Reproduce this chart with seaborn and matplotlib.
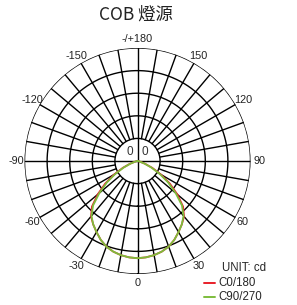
import numpy as np
import pandas as pd
import matplotlib
matplotlib.use("Agg")
import matplotlib.pyplot as plt
import seaborn as sns
from matplotlib.lines import Line2D

# luminous intensity (ring unit = 1 division)
angles = [-90, -85, -80, -75, -70, -65, -60, -55, -50, -45, -40, -35, -30, -25, -20, -15, -10, -5,
          0, 5, 10, 15, 20, 25, 30, 35, 40, 45, 50, 55, 60, 65, 70, 75, 80, 85, 90]
c0_180 = [0, 0, 0.02, 0.12, 0.35, 0.72, 1.2, 1.75, 2.3, 2.85, 3.2, 3.42, 3.63, 3.85, 4.03, 4.15, 4.23, 4.28,
          4.30, 4.28, 4.23, 4.15, 4.03, 3.85, 3.63, 3.42, 3.2, 2.85, 2.3, 1.75, 1.2, 0.72, 0.35, 0.12, 0.02, 0, 0]
c90_270 = [0, 0, 0.02, 0.1, 0.32, 0.66, 1.12, 1.65, 2.2, 2.78, 3.17, 3.42, 3.63, 3.85, 4.03, 4.15, 4.23, 4.28,
           4.30, 4.28, 4.23, 4.15, 4.03, 3.85, 3.63, 3.42, 3.17, 2.78, 2.2, 1.65, 1.12, 0.66, 0.32, 0.1, 0.02, 0, 0]
series_names = ["C0/180", "C90/270"]
series_colors = ["#e8202a", "#7dbd3c"]
label_angles = [0, 30, 60, 90, 120, 150, 180, -150, -120, -90, -60, -30]
label_texts = ["0", "30", "60", "90", "120", "150", "-/+180", "-150", "-120", "-90", "-60", "-30"]

df = pd.concat([
    pd.DataFrame({"theta": np.deg2rad(angles), "cd": c0_180, "curve": series_names[0]}),
    pd.DataFrame({"theta": np.deg2rad(angles), "cd": c90_270, "curve": series_names[1]}),
])

sns.set_style("white")
plt.rcParams["font.family"] = ["Liberation Sans", "DejaVu Sans"]

fig = plt.figure(figsize=(2.97, 3.05), dpi=100)
ax = fig.add_axes([0.0825, 0.1016, 0.761, 0.741], projection="polar")
ax.set_theta_zero_location("S")
ax.set_theta_direction(1)
ax.set_rlim(0, 5)

# grid: rings and spokes
t = np.linspace(0, 2 * np.pi, 400)
for r in range(1, 6):
    ax.plot(t, np.full_like(t, r), color="black", lw=1.0, zorder=1)
for a in range(0, 360, 10):
    r0 = 0 if a % 90 == 0 else 1
    ax.plot([np.deg2rad(a)] * 2, [r0, 5], color="black", lw=1.0, zorder=1)

sns.lineplot(data=df, x="theta", y="cd", hue="curve", palette=series_colors,
             sort=False, lw=1.3, ax=ax, legend=False, zorder=3)

for a, s in zip(label_angles, label_texts):
    ax.text(np.deg2rad(a), 5.38, s, ha="center", va="center", fontsize=7.8, color="#222222")
ax.text(np.deg2rad(-140), 0.5, "0", ha="center", va="center", fontsize=8.5, color="#333333")
ax.text(np.deg2rad(140), 0.5, "0", ha="center", va="center", fontsize=8.5, color="#333333")

ax.set_xticks([])
ax.set_yticks([])
ax.set_xlabel("")
ax.set_ylabel("")
ax.grid(False)
ax.spines["polar"].set_visible(False)

fig.text(0.457, 0.951, "COB 燈源", ha="center", va="center", fontsize=12.5, color="#222222",
         family=["Noto Sans CJK TC", "DejaVu Sans"])

# legend
fig.text(222 / 297, 1 - 268 / 305, "UNIT: cd", ha="left", va="center", fontsize=8.3)
for i, (name, col) in enumerate(zip(series_names, series_colors)):
    y = 1 - (283 + 14 * i) / 305
    fig.add_artist(Line2D([204 / 297, 215 / 297], [y, y], color=col, lw=1.4))
    fig.text(218 / 297, y, name, ha="left", va="center", fontsize=8.3)

fig.savefig("out.png", dpi=100)
